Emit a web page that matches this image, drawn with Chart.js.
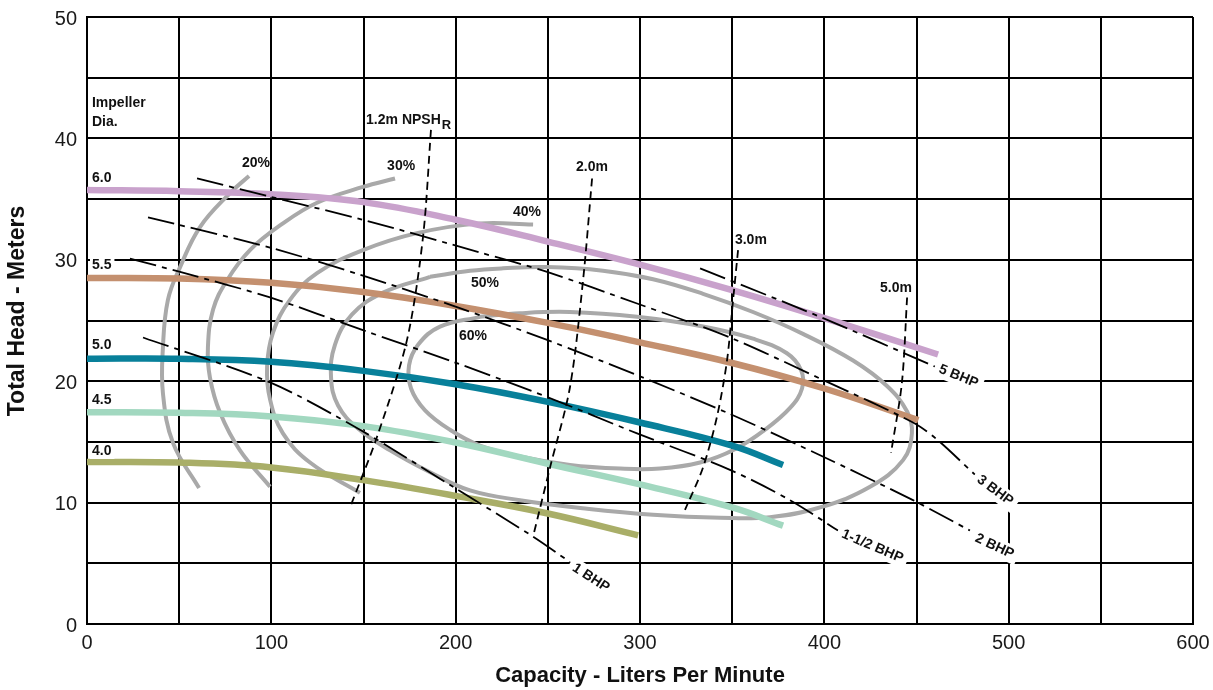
<!DOCTYPE html>
<html>
<head>
<meta charset="utf-8">
<script src="https://cdn.jsdelivr.net/npm/chart.js@4.4.1/dist/chart.umd.min.js"></script>
<style>
html,body{margin:0;padding:0;background:#fff;}
#wrap{width:1213px;height:690px;position:relative;}
</style>
</head>
<body>
<div id="wrap"><canvas id="c" width="1213" height="690"></canvas></div>
<script>
// ---------- DATA ----------
const xTicks = [0, 100, 200, 300, 400, 500, 600];
const yTicks = [0, 10, 20, 30, 40, 50];

const impellerDia = ['6.0', '5.5', '5.0', '4.5', '4.0'];
const impeller60 = [[0,35.75],[50,35.65],[100,35.4],[150,34.75],[200,33.3],[250,31.5],[300,29.6],[350,27.5],[400,25.2],[461.7,22.2]];
const impeller55 = [[0,28.5],[50,28.45],[100,28.1],[150,27.35],[200,26.2],[250,24.8],[300,23.2],[350,21.5],[400,19.4],[451,16.8]];
const impeller50 = [[0,21.85],[50,21.85],[100,21.6],[150,20.85],[200,19.75],[250,18.3],[300,16.6],[350,14.7],[377.6,13.1]];
const impeller45 = [[0,17.45],[50,17.4],[100,17.1],[150,16.3],[200,14.95],[250,13.2],[300,11.5],[350,9.6],[377.6,8.1]];
const impeller40 = [[0,13.35],[50,13.3],[100,12.9],[150,11.85],[200,10.55],[250,9.1],[299,7.3]];

const effLabels = ['20%', '30%', '40%', '50%', '60%'];
const eff20 = [[87.9,36.9],[77.6,35.5],[61.3,32.7],[50.5,29.4],[43.9,26.7],[41.2,22.8],[41.2,19.0],[46.7,14.9],[60.8,11.2]];
const eff30 = [[167.1,36.7],[149.7,36.0],[124.8,34.7],[106.3,33.0],[88.4,30.8],[75.9,28.3],[68.4,25.9],[65.6,22.8],[66.7,20.3],[72.2,17.4],[83.0,14.3],[99.3,11.3]];
const eff40 = [[242.0,32.9],[213.2,33.0],[179.0,32.2],[149.7,30.8],[124.8,28.9],[110.1,26.7],[100.9,24.0],[97.7,21.2],[99.3,18.5],[106.3,15.7],[121.0,13.3],[148.1,10.8]];
const eff50 = [[186.1,28.6],[160.6,27.3],[143.8,25.5],[134.5,23.0],[132.4,20.3],[136.2,18.0],[147.0,16.1],[164.4,14.3],[186.1,12.5],[207.8,11.0],[234.9,10.2],[271.3,9.5],[307.1,9.0],[343.5,8.75],[370.5,8.8],[397.7,9.6],[424.8,11.3],[442.7,13.5],[447.5,15.7],[444.9,17.5],[434.0,19.6],[415.6,21.7],[388.4,23.9],[361.3,25.7],[334.2,27.2],[307.1,28.4],[279.9,29.1],[249.5,29.4],[225.7,29.3],[207.8,29.1],[186.1,28.6]];
const eff60 = [[213.2,25.3],[191.5,24.5],[179.6,23.0],[174.7,21.3],[175.8,19.4],[183.4,17.6],[196.9,16.0],[213.2,14.7],[234.9,13.8],[262.0,13.1],[289.2,12.8],[310.9,12.8],[332.6,13.3],[351.5,14.4],[367.8,16.0],[381.4,17.8],[387.9,19.4],[387.4,20.9],[379.7,22.3],[361.3,23.5],[334.2,24.5],[298.4,25.3],[262.0,25.7],[234.9,25.6],[213.2,25.3]];

const npshLabels = ['1.2m NPSH', '2.0m', '3.0m', '5.0m'];
const npsh12 = [[186.6,40.7],[182.3,31.9],[173.6,23.4],[157.3,15.4],[142.7,9.6]];
const npsh20 = [[274.0,36.7],[269.1,28.3],[262.0,19.5],[251.2,12.9],[242.0,7.2]];
const npsh30 = [[353.2,30.8],[350.5,26.7],[347.2,21.7],[341.8,17.1],[334.2,12.9],[324.4,9.4]];
const npsh50 = [[444.9,26.9],[442.1,19.9],[436.2,14.1]];

const bhpLabels = ['5 BHP', '3 BHP', '2 BHP', '1-1/2 BHP', '1 BHP'];
const bhp5 = [[332.6,29.3],[399.3,25.2],[460.0,21.2]];
const bhp3 = [[59.7,36.7],[99.3,35.2],[149.7,33.3],[213.2,30.6],[249.6,29.0],[298.4,26.4],[348.8,23.6],[399.3,20.1],[448.1,16.6],[461.1,15.2],[481.7,12.3]];
const bhp2 = [[33.1,33.5],[99.3,31.0],[149.7,28.7],[200.7,26.1],[249.6,23.4],[298.4,20.5],[348.8,17.3],[397.7,13.9],[448.1,10.2],[479.0,7.7]];
const bhp15 = [[23.3,30.1],[50.5,29.0],[99.3,26.9],[149.7,24.2],[198.6,21.6],[249.6,18.7],[298.4,15.7],[348.8,12.7],[381.4,10.2],[407.4,7.7]];
const bhp1 = [[30.4,23.6],[99.3,19.9],[148.1,16.0],[198.6,11.3],[242.0,7.2],[262.0,5.1]];

// ---------- STYLE / LAYOUT ----------
const FONT = '"Liberation Sans", Arial, Helvetica, sans-serif';
const pts = a => a.map(([x, y]) => ({x, y}));
function line(data, color, width, extra) {
  return Object.assign({
    data: pts(data), showLine: true, borderColor: color, backgroundColor: color,
    borderWidth: width, pointRadius: 0, pointHoverRadius: 0, fill: false,
    tension: 0.4, borderCapStyle: 'butt', borderJoinStyle: 'round'
  }, extra || {});
}
const GRAY = '#a9a9a9';
const BHP_DASH = [27, 6, 5, 6];
const NPSH_DASH = [8, 5];

const datasets = [
  line(eff20, GRAY, 4, {order: 3}),
  line(eff30, GRAY, 4, {order: 3}),
  line(eff40, GRAY, 4, {order: 3}),
  line(eff50, GRAY, 4, {order: 3}),
  line(eff60, GRAY, 4, {order: 3}),
  line(impeller60, '#c9a2cc', 6.5, {order: 2}),
  line(impeller55, '#c4906f', 6.5, {order: 2}),
  line(impeller50, '#08809a', 6.5, {order: 2}),
  line(impeller45, '#a2d8c0', 6.5, {order: 2}),
  line(impeller40, '#a9ae68', 6.5, {order: 2}),
  line(npsh12, '#000', 1.8, {order: 1, borderDash: NPSH_DASH, tension: 0.3}),
  line(npsh20, '#000', 1.8, {order: 1, borderDash: NPSH_DASH, tension: 0.3}),
  line(npsh30, '#000', 1.8, {order: 1, borderDash: NPSH_DASH, tension: 0.3}),
  line(npsh50, '#000', 1.8, {order: 1, borderDash: NPSH_DASH, tension: 0.3}),
  line(bhp5, '#000', 1.8, {order: 1, borderDash: BHP_DASH, tension: 0.3}),
  line(bhp3, '#000', 1.8, {order: 1, borderDash: BHP_DASH, tension: 0.3}),
  line(bhp2, '#000', 1.8, {order: 1, borderDash: BHP_DASH, tension: 0.3}),
  line(bhp15, '#000', 1.8, {order: 1, borderDash: BHP_DASH, tension: 0.3}),
  line(bhp1, '#000', 1.8, {order: 1, borderDash: BHP_DASH, tension: 0.3})
];

// label anchors (data coordinates) – layout only
const layoutLabels = {
  impellerHead: [['Impeller', 2.7, 42.9], ['Dia.', 2.7, 41.35]],
  impeller: [[2.7, 36.7], [2.7, 29.6], [2.7, 23.0], [2.7, 18.4], [2.7, 14.25]],
  eff: [[91.7, 38.0], [170.4, 37.7], [238.7, 33.9], [215.9, 28.1], [209.4, 23.7]],
  npsh: [[151.4, 41.5], [265.3, 37.6], [351.5, 31.6], [430.2, 27.7]],
  bhp: [[472.8, 20.4, 22], [492.6, 11.0, 37], [492.3, 6.4, 25], [426.1, 6.4, 23], [273.4, 3.8, 33]]
};

const textPlugin = {
  id: 'pumpTexts',
  afterDatasetsDraw(chart) {
    const {ctx, scales: {x, y}, chartArea} = chart;
    const X = v => x.getPixelForValue(v), Y = v => y.getPixelForValue(v);
    ctx.save();
    ctx.fillStyle = '#111';
    ctx.textBaseline = 'middle';
    const bold = s => 'bold ' + s + 'px ' + FONT;

    ctx.font = bold(14);
    ctx.textAlign = 'left';
    layoutLabels.impellerHead.forEach(([t, xv, yv]) => ctx.fillText(t, X(xv), Y(yv)));

    impellerDia.forEach((t, i) => {
      const [xv, yv] = layoutLabels.impeller[i];
      const w = ctx.measureText(t).width;
      ctx.fillStyle = '#fff';
      ctx.fillRect(X(xv) - 2, Y(yv) - 8, w + 5, 16);
      ctx.fillStyle = '#111';
      ctx.fillText(t, X(xv), Y(yv));
    });

    ctx.textAlign = 'center';
    effLabels.forEach((t, i) => {
      const [xv, yv] = layoutLabels.eff[i];
      ctx.fillText(t, X(xv), Y(yv));
    });

    ctx.textAlign = 'left';
    npshLabels.forEach((t, i) => {
      const [xv, yv] = layoutLabels.npsh[i];
      ctx.font = bold(14);
      ctx.fillText(t, X(xv), Y(yv));
      if (i === 0) {
        const w = ctx.measureText(t).width;
        ctx.font = bold(13);
        ctx.fillText('R', X(xv) + w + 1, Y(yv) + 5);
      }
    });

    ctx.font = bold(14);
    ctx.textAlign = 'center';
    bhpLabels.forEach((t, i) => {
      const [xv, yv, ang] = layoutLabels.bhp[i];
      const w = ctx.measureText(t).width;
      ctx.save();
      ctx.translate(X(xv), Y(yv));
      ctx.rotate(ang * Math.PI / 180);
      ctx.fillStyle = '#fff';
      ctx.fillRect(-w / 2 - 5, -9, w + 10, 18);
      ctx.fillStyle = '#111';
      ctx.fillText(t, 0, 0);
      ctx.restore();
    });

    ctx.font = bold(22);
    ctx.fillStyle = '#111';
    ctx.textAlign = 'center';
    ctx.fillText('Capacity - Liters Per Minute', (chartArea.left + chartArea.right) / 2, chartArea.bottom + 52);
    ctx.save();
    ctx.font = bold(23);
    ctx.translate(18, chartArea.top + 294);
    ctx.rotate(-Math.PI / 2);
    ctx.fillText('Total Head - Meters', 0, 0);
    ctx.restore();

    ctx.restore();
  }
};

new Chart(document.getElementById('c'), {
  type: 'scatter',
  data: {datasets},
  options: {
    responsive: false,
    animation: false,
    events: [],
    layout: {padding: {top: 17, right: 20, left: 0, bottom: 0}},
    plugins: {legend: {display: false}, tooltip: {enabled: false}, title: {display: false}},
    scales: {
      x: {
        type: 'linear', position: 'bottom', min: 0, max: 600,
        ticks: {
          stepSize: 50, autoSkip: false, maxRotation: 0, padding: 7, color: '#1a1a1a',
          font: {family: FONT, size: 20},
          callback: v => xTicks.includes(v) ? String(v) : ''
        },
        grid: {color: '#000', lineWidth: 2, drawTicks: false},
        border: {color: '#000', width: 2},
        afterFit: s => { s.height = 66; s.paddingLeft = 0; s.paddingRight = 0; }
      },
      y: {
        type: 'linear', position: 'left', min: 0, max: 50,
        ticks: {
          stepSize: 5, autoSkip: false, padding: 10, color: '#1a1a1a', labelOffset: 2,
          font: {family: FONT, size: 20},
          callback: v => yTicks.includes(v) ? String(v) : ''
        },
        grid: {color: '#000', lineWidth: 2, drawTicks: false},
        border: {color: '#000', width: 2},
        afterFit: s => { s.width = 87; s.paddingTop = 0; s.paddingBottom = 0; }
      }
    }
  },
  plugins: [textPlugin]
});
</script>
</body>
</html>
